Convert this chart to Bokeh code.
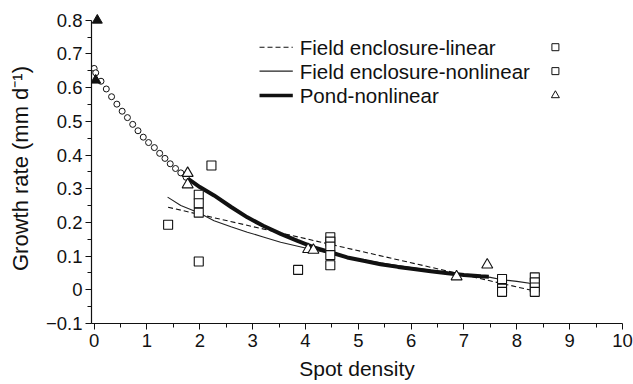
from bokeh.plotting import figure
from bokeh.models import Range1d, CustomJSTickFormatter, FixedTicker
from bokeh.embed import file_html
from bokeh.resources import INLINE
from bokeh.core.properties import value

FONT = "Liberation Sans"

# ---- data ----
circle_x = [0.0, 0.03, 0.13, 0.23, 0.33, 0.43, 0.53, 0.63, 0.73, 0.83, 0.93, 1.03, 1.14, 1.24, 1.34, 1.44, 1.54, 1.64, 1.74]
circle_y = [0.657, 0.644, 0.619, 0.596, 0.573, 0.551, 0.530, 0.511, 0.491, 0.472, 0.453, 0.437, 0.422, 0.405, 0.390, 0.374, 0.360, 0.347, 0.334]

max_x = [0.06, 0.03]
max_y = [0.80, 0.622]

pond_x = [1.77, 1.77, 4.05, 4.15, 6.86, 7.44]
pond_y = [0.346, 0.312, 0.120, 0.118, 0.039, 0.074]

field_x = [1.40, 1.98, 1.98, 1.98, 1.98, 2.22, 3.86, 4.47, 4.47, 4.47, 4.47, 4.47,
           7.72, 7.72, 7.72, 8.34, 8.34, 8.34, 8.34]
field_y = [0.193, 0.282, 0.257, 0.229, 0.084, 0.369, 0.059, 0.156, 0.143, 0.128, 0.103, 0.073,
           0.032, 0.003, -0.006, 0.037, 0.022, 0.007, -0.006]

lin_x = [1.40, 8.35]
lin_y = [0.245, -0.004]

nonlin_x = [1.39, 1.64, 1.99, 2.27, 2.59, 2.90, 3.20, 3.53, 4.16, 4.50, 5.00, 5.50, 6.00, 6.50, 7.00, 7.50, 7.72, 8.00, 8.34]
nonlin_y = [0.275, 0.250, 0.228, 0.205, 0.187, 0.171, 0.157, 0.141, 0.118, 0.106, 0.091, 0.078, 0.066, 0.056, 0.046, 0.037, 0.030, 0.025, 0.017]

pondfit_x = [1.74, 2.00, 2.27, 2.60, 2.90, 3.20, 3.53, 3.85, 4.16, 4.50, 4.79, 5.10, 5.42, 5.75, 6.05, 6.37, 6.69, 7.00, 7.32, 7.47]
pondfit_y = [0.334, 0.305, 0.280, 0.245, 0.215, 0.190, 0.166, 0.145, 0.126, 0.110, 0.096, 0.086, 0.076, 0.068, 0.062, 0.055, 0.049, 0.044, 0.040, 0.039]

x_ticks = list(range(0, 11))
y_ticks = [-0.1, 0.0, 0.1, 0.2, 0.3, 0.4, 0.5, 0.6, 0.7, 0.8]

legend_labels = ["Field enclosure-linear", "Field enclosure-nonlinear", "Pond-nonlinear"]

# ---- figure ----
p = figure(width=633, height=384, output_backend="svg", toolbar_location=None,
           x_range=Range1d(-0.05, 10), y_range=Range1d(-0.1, 0.82),
           min_border_left=91, min_border_right=11, min_border_top=13, min_border_bottom=61)
p.outline_line_color = None
p.grid.visible = False
p.background_fill_color = "white"
p.border_fill_color = "white"

# fits
p.line(lin_x, lin_y, line_color="#111111", line_width=1.1, line_dash="5 3")
p.line(nonlin_x, nonlin_y, line_color="#222222", line_width=1.1)
p.line(pondfit_x, pondfit_y, line_color="#111111", line_width=4)

# data
p.scatter(circle_x, circle_y, marker="circle", size=6, fill_color="white", line_color="#111111", line_width=1)
p.scatter(field_x, field_y, marker="square", size=9, fill_color="white", line_color="#111111", line_width=1.1)
p.scatter(pond_x, pond_y, marker="triangle", size=11, fill_color="white", line_color="#111111", line_width=1.1)
p.scatter(max_x, max_y, marker="triangle", size=10, fill_color="#111111", line_color="#111111")

# legend (manual)
leg_y = [0.720, 0.649, 0.577]
leg_line_x = [3.13, 3.76]
p.line(leg_line_x, [leg_y[0]] * 2, line_color="#111111", line_width=1.1, line_dash="5 3")
p.line(leg_line_x, [leg_y[1]] * 2, line_color="#222222", line_width=1.1)
p.line(leg_line_x, [leg_y[2]] * 2, line_color="#111111", line_width=3.5)
p.text([3.89] * 3, leg_y, text=legend_labels, text_font=value(FONT), text_font_size="20.5px",
       text_baseline="middle", text_align="left", text_color="#111111")
p.scatter([8.73, 8.73], leg_y[:2], marker="square", size=7, fill_color="white", line_color="#111111", line_width=1)
p.scatter([8.73], leg_y[2:], marker="triangle", size=8, fill_color="white", line_color="#111111", line_width=1)

# axes
xa = p.xaxis[0]
ya = p.yaxis[0]
xa.ticker = FixedTicker(ticks=x_ticks, minor_ticks=[i + 0.5 for i in range(10)])
ya.ticker = FixedTicker(ticks=y_ticks, minor_ticks=[-0.05 + 0.1 * i for i in range(9)])
ya.formatter = CustomJSTickFormatter(code="""
if (Math.abs(tick) < 1e-9) return "0";
return tick.toFixed(1).replace("-", "\\u2212");
""")
ya.bounds = (-0.1, 0.8)
for ax in (xa, ya):
    ax.axis_line_color = "#111111"
    ax.axis_line_width = 1.2
    ax.major_tick_line_color = "#111111"
    ax.minor_tick_line_color = "#111111"
    ax.major_tick_in = 0
    ax.major_tick_out = 6
    ax.minor_tick_in = 0
    ax.minor_tick_out = 4
    ax.major_label_text_font = FONT
    ax.major_label_text_font_size = "18.5px"
    ax.major_label_text_color = "#111111"
    ax.axis_label_text_font = FONT
    ax.axis_label_text_font_style = "normal"
    ax.axis_label_text_color = "#111111"
xa.axis_label_text_font_size = "21px"
ya.axis_label_text_font_size = "22px"
xa.axis_label = "Spot density"
ya.axis_label = "Growth rate (mm d\u207b\u00b9)"
xa.major_label_standoff = 4
ya.major_label_standoff = 3
xa.axis_label_standoff = 7
ya.axis_label_standoff = 10

open("out.html", "w").write(file_html(p, INLINE))
